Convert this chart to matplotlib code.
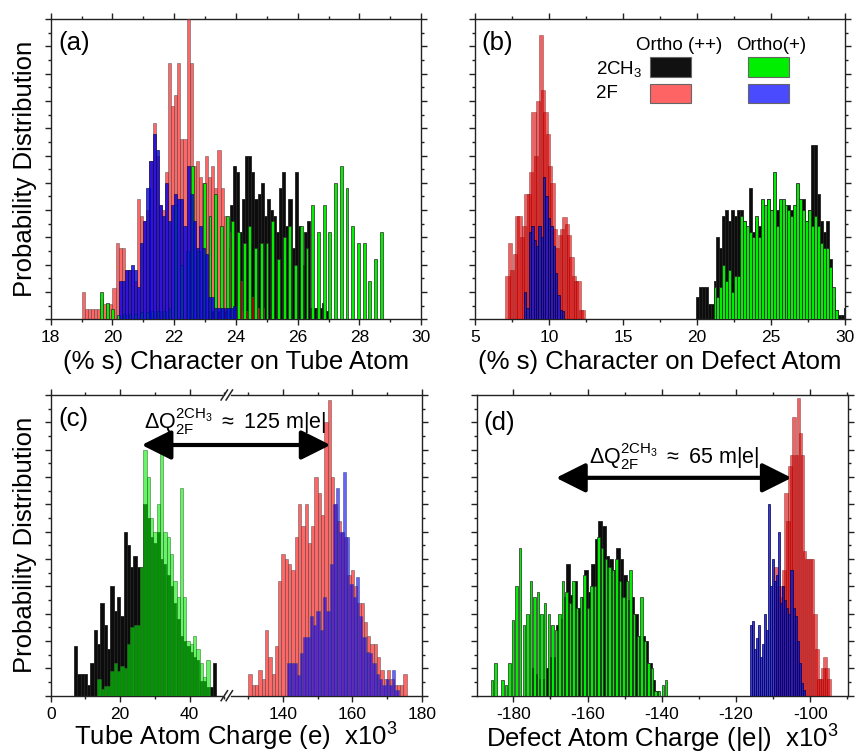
import numpy as np
import matplotlib
matplotlib.use('Agg')
import matplotlib.pyplot as plt
from matplotlib.patches import Rectangle, FancyArrowPatch
from matplotlib.lines import Line2D
from matplotlib.ticker import MultipleLocator, FixedLocator, NullFormatter

plt.rcParams['font.family'] = ['Liberation Sans', 'DejaVu Sans']
plt.rcParams['mathtext.fontset'] = 'custom'
plt.rcParams['mathtext.rm'] = 'Liberation Sans'
plt.rcParams['mathtext.it'] = 'Liberation Sans:italic'
plt.rcParams['mathtext.bf'] = 'Liberation Sans:bold'
plt.rcParams['axes.unicode_minus'] = False

# ---------------- data ----------------
# panel (a): % s character on tube atom
red_a_start, red_a_step = 19.0, 0.1
red_a = [1.0, 0.37, 0.37, 0.37, 0.37, 0.37, 0.75, 0.55, 0.55, 0.55,
         1.15, 2.8, 2.6, 2.6, 1.8, 1.8, 1.8, 1.4, 4.4, 3.8,
         3.6, 4.0, 5.8, 7.2, 6.0, 4.2, 4.0, 5.4, 9.4, 7.8,
         8.2, 9.4, 6.6, 6.6, 11.0, 9.4, 5.6, 5.8, 5.2, 5.0,
         6.0, 5.2, 5.6, 4.8, 6.2, 4.8, 3.8, 2.6, 3.2, 0.3,
         0.5, 1.4, 0.3, 0.3, 0.3, 0.8, 0.4, 0.4, 0.4]
blue_a_start, blue_a_step = 20.2, 0.1
blue_a = [1.4, 1.4, 1.8, 1.8, 2.0, 1.8, 1.2, 2.8, 3.6, 4.8,
          5.8, 6.8, 6.2, 4.2, 3.8, 5.0, 3.6, 4.2, 4.6, 4.4,
          4.4, 3.4, 5.6, 4.6, 3.6, 2.6, 3.4, 2.6, 2.4, 0.8,
          0.8, 0.4, 0.4, 0.4, 0.4, 0.4, 0.4, 0.5]
black_a_start, black_a_step = 23.1, 0.1
black_a = [0.3, 0.3, 1.2, 0.3, 0.3, 0.3, 0.3, 4.2, 5.6, 5.4,
           3.2, 4.4, 6.0, 6.0, 5.4, 4.4, 4.6, 5.0, 3.8, 4.4,
           4.0, 3.8, 3.2, 4.8, 5.4, 3.4, 4.4, 2.6, 5.4, 3.4,
           2.0, 3.2, 3.6, 0.4, 0.4, 0.4, 0.4, 0.6, 0.3]
green_a_start, green_a_step = 19.55, 0.185
green_a = [1.0, 0.6, 0.37, 0.17, 0.2, 0.2, 0.2, 0.25, 0.25, 0.3,
           0.3, 0.3, 0.4, 4.2, 2.0, 2.5, 5.6, 2.5, 5.0, 3.8,
           4.6, 3.4, 3.8, 3.6, 3.2, 2.8, 3.4, 2.6, 2.8, 2.8,
           3.6, 2.2, 3.0, 3.4, 2.0, 3.4, 2.6, 4.2, 3.2, 4.2,
           3.2, 5.0, 5.6, 4.8, 3.4, 2.8, 2.8, 1.4, 2.2, 3.2]

# panel (b): % s character on defect atom
red_b_start, red_b_step = 7.1, 0.16
red_b = [1.6, 2.8, 1.8, 2.4, 3.8, 3.8, 3.0, 3.4, 4.6, 4.6,
         5.4, 7.6, 6.0, 8.0, 10.4, 8.4, 7.6, 6.8, 5.6, 5.0,
         3.3, 2.6, 3.1, 3.3, 3.75, 3.5, 3.1, 2.3, 1.6, 1.4,
         1.4, 0.33, 0.33]
blue_b_start, blue_b_step = 8.3, 0.16
blue_b = [1.0, 0.4, 3.2, 3.4, 2.9, 2.7, 3.4, 3.0, 5.2, 4.5,
          3.7, 3.4, 2.7, 1.7, 0.9, 0.33, 0.3]
black_b_start, black_b_step = 19.9, 0.2
black_b = [0.8, 1.2, 1.2, 1.2, 0.55, 0.55, 1.4, 3.0, 2.6, 3.8,
           4.0, 3.6, 4.0, 3.8, 4.0, 4.0, 3.6, 3.2, 4.8, 3.2,
           3.6, 3.4, 3.4, 3.8, 4.4, 4.0, 3.8, 4.0, 4.2, 4.0,
           4.0, 4.2, 4.0, 4.0, 4.2, 3.6, 4.4, 3.6, 4.0, 6.4,
           6.4, 4.6, 3.6, 3.2, 3.6, 2.2, 0.76, 0.33, 0.15, 0.15,
           0.4]
green_b_start, green_b_step = 21.1, 0.2
green_b = [1.2, 0.8, 1.2, 2.0, 1.4, 1.8, 1.0, 1.6, 1.6, 3.8,
           3.6, 3.4, 3.2, 3.0, 3.8, 3.0, 4.4, 4.2, 4.4, 4.0,
           5.4, 3.4, 4.4, 4.4, 4.2, 4.0, 3.8, 4.2, 5.0, 4.4,
           4.0, 3.6, 4.0, 3.4, 3.8, 3.4, 2.8, 2.6, 2.6, 1.9,
           1.2, 0.33]

# panel (c): tube atom charge (x10^3 e)
black_c_start, black_c_step = 6.7, 0.95
black_c = [1.8, 0.8, 0.8, 0.8, 0.4, 1.2, 2.4, 1.9, 3.4, 2.6,
           1.7, 4.0, 3.1, 3.6, 2.9, 6.0, 5.5, 4.7, 5.1, 4.7,
           4.7, 7.0, 6.5, 5.8, 5.6, 6.0, 5.0, 4.8, 4.4, 4.0,
           3.4, 2.8, 2.2, 2.0, 1.8, 1.6, 1.4, 1.3, 0.55, 0.55,
           0.3, 0.3, 1.2]
green_c_start, green_c_step = 13.4, 0.95
green_c = [0.6, 0.25, 0.35, 0.35, 0.9, 1.2, 0.9, 1.1, 1.0, 1.9,
           2.5, 2.6, 2.6, 4.7, 9.0, 8.0, 6.5, 6.0, 7.0, 9.1,
           6.0, 5.8, 5.2, 4.2, 3.6, 7.6, 3.6, 2.0, 1.9, 2.2,
           1.7, 1.2, 0.7, 1.3]
red_c_start, red_c_step = 130.1, 0.95
red_c = [0.8, 0.4, 0.4, 0.95, 0.6, 2.4, 1.4, 0.8, 1.8, 4.2,
         5.2, 5.0, 4.8, 4.6, 5.8, 7.0, 6.2, 7.0, 5.6, 6.2,
         8.0, 7.4, 6.6, 10.0, 10.8, 8.0, 7.0, 6.4, 6.0, 5.8,
         4.4, 4.6, 4.0, 3.4, 3.4, 2.7, 2.2, 1.9, 1.9, 1.4,
         0.95, 0.6, 0.95, 0.6, 0.4, 0.4, 0.4, 0.8]
blue_c_start, blue_c_step = 141.1, 0.95
blue_c = [1.2, 1.2, 1.2, 0.75, 1.55, 2.15, 2.15, 2.9, 2.6, 3.1,
          2.4, 3.6, 3.1, 4.8, 7.0, 7.6, 6.0, 8.2, 5.8, 4.1,
          3.6, 4.35, 2.9, 2.15, 1.6, 1.55, 1.2, 0.8, 0.6, 0.4,
          0.6, 0.4, 0.95, 0.2]

# panel (d): defect atom charge (x10^3 |e|)
green_d_start, green_d_step = -186.3, 0.96
green_d = [0.57, 1.18, 0.0, 0.57, 0.39, 1.18, 2.77, 4.0, 5.4, 2.6,
           3.0, 4.2, 3.6, 3.8, 3.0, 3.4, 3.0, 2.6, 2.4, 3.0,
           4.2, 3.8, 3.4, 4.2, 3.2, 3.6, 4.4, 3.2, 4.0, 4.0,
           5.8, 5.4, 5.0, 4.7, 4.6, 5.0, 4.2, 3.6, 4.2, 4.6,
           3.0, 2.2, 3.6, 2.0, 1.2, 1.0, 0.18, 0.18, 0.39, 0.57]
black_d_start, black_d_step = -175.3, 0.96
black_d = [1.0, 0.8, 0.6, 0.6, 1.0, 1.4, 1.4, 2.6, 2.8, 3.6,
           4.8, 3.7, 4.2, 3.2, 3.6, 4.6, 3.8, 4.8, 5.75, 6.4,
           6.2, 5.1, 5.0, 4.6, 5.4, 5.0, 4.4, 3.5, 3.6, 3.0,
           2.2, 2.2, 2.0, 1.2, 0.57, 0.18]
blue_d_start, blue_d_step = -116.3, 0.55
blue_d = [2.6, 2.75, 1.7, 2.1, 2.6, 1.4, 1.9, 3.0, 2.4, 7.0,
          4.0, 5.0, 4.2, 4.4, 6.0, 3.4, 4.0, 3.5, 3.2, 3.0,
          4.6, 3.2, 2.9, 2.0, 1.2, 0.45, 0.2]
red_d_start, red_d_step = -109.5, 0.55
red_d = [4.7, 4.0, 3.6, 4.0, 4.6, 7.4, 6.4, 8.4, 8.8, 10.2,
         8.8, 10.9, 9.6, 8.8, 5.3, 5.0, 5.0, 5.0, 5.0, 3.0,
         1.7, 0.6, 0.6, 1.0, 1.4, 1.0, 0.6]

legend_cols = ['Ortho (++)', 'Ortho(+)']
legend_rows = ['2CH$_3$', '2F']

# ---------------- styles ----------------
C_BLACK = '#0c0c0c'
C_GREEN = '#00ee00'
C_RED = (1.0, 0.0, 0.0)
C_DRED = (0.86, 0.0, 0.0)
C_BLUE = (0.0, 0.0, 1.0)
EDGE = '#2a2a2a'

W, H = 856.0, 756.0


def rect(l, t, r, b):
    return [l / W, 1 - b / H, (r - l) / W, (b - t) / H]


def bars(ax, start, step, vals, wfrac=1.0, center_frac=0.5, **kw):
    vals = np.asarray(vals, dtype=float)
    edges = start + step * np.arange(len(vals))
    centers = edges + step * center_frac
    ax.bar(centers, vals, width=step * wfrac, align='center', **kw)


def style(ax, left=True, right=True):
    ax.set_ylim(0, 11)
    ax.yaxis.set_major_locator(MultipleLocator(1))
    ax.yaxis.set_minor_locator(MultipleLocator(0.5))
    ax.yaxis.set_major_formatter(NullFormatter())
    ax.tick_params(which='both', direction='out', top=True, bottom=True,
                   left=left, right=right, labelsize=12.5, width=1,
                   color='#222222', pad=3.5)
    ax.tick_params(which='major', length=4.5)
    ax.tick_params(which='minor', length=2.5)
    for s in ax.spines.values():
        s.set_linewidth(1)
        s.set_color('#222222')


fig = plt.figure(figsize=(8.56, 7.56), dpi=100)

ax_a = fig.add_axes(rect(50.7, 19, 421.2, 319.3))
ax_b = fig.add_axes(rect(475.3, 19, 845.2, 319.3))
ax_c1 = fig.add_axes(rect(50.7, 395, 226.2, 695.7))
ax_c2 = fig.add_axes(rect(226.2, 395, 421.7, 695.7))
ax_d = fig.add_axes(rect(477.0, 395, 848.0, 695.7))

LW = 0.6
# ---- (a)
bars(ax_a, black_a_start, black_a_step, black_a, color=C_BLACK, edgecolor='#222222', lw=LW, zorder=2)
bars(ax_a, red_a_start, red_a_step, red_a, color=C_RED, alpha=0.6, edgecolor='#555555', lw=LW, zorder=3)
bars(ax_a, green_a_start, green_a_step, green_a, wfrac=0.5, color='#00f000', edgecolor=EDGE, lw=0.5, zorder=4)
bars(ax_a, blue_a_start, blue_a_step, blue_a, color='#0000f0', alpha=0.8, edgecolor='#101050', lw=LW, zorder=5)
ax_a.set_xlim(18, 30)
ax_a.xaxis.set_major_locator(MultipleLocator(2))
ax_a.xaxis.set_minor_locator(MultipleLocator(1))
style(ax_a)
ax_a.set_xlabel('(% s) Character on Tube Atom', fontsize=18.5, labelpad=3)
ax_a.set_ylabel('Probability Distribution', fontsize=18.5)
ax_a.yaxis.set_label_coords(-0.036, 0.5)
ax_a.text(0.02, 0.92, '(a)', transform=ax_a.transAxes, fontsize=18.5, va='center', ha='left')

# ---- (b)
bars(ax_b, black_b_start, black_b_step, black_b, color=C_BLACK, edgecolor='#222222', lw=LW, zorder=2)
bars(ax_b, green_b_start, green_b_step, green_b, color=C_GREEN, edgecolor=EDGE, lw=LW, zorder=3)
bars(ax_b, red_b_start, red_b_step, red_b, wfrac=1.8, color=C_DRED, alpha=0.6, edgecolor='#6a0808', lw=0.4, zorder=4)
bars(ax_b, blue_b_start, blue_b_step, blue_b, wfrac=1.0, color='#1818c8', alpha=0.85, edgecolor='#000050', lw=0.6, zorder=5)
ax_b.set_xlim(5, 30)
ax_b.xaxis.set_major_locator(MultipleLocator(5))
ax_b.xaxis.set_minor_locator(MultipleLocator(2.5))
style(ax_b)
ax_b.set_xlabel('(% s) Character on Defect Atom', fontsize=18.5, labelpad=3)
ax_b.text(0.016, 0.92, '(b)', transform=ax_b.transAxes, fontsize=18.5, va='center', ha='left')

# legend in (b)
ax_b.text(0.55, 0.913, legend_cols[0], transform=ax_b.transAxes, fontsize=13.5, ha='center', va='center')
ax_b.text(0.80, 0.913, legend_cols[1], transform=ax_b.transAxes, fontsize=13.5, ha='center', va='center')
ax_b.text(0.327, 0.835, legend_rows[0], transform=ax_b.transAxes, fontsize=13.5, ha='left', va='center')
ax_b.text(0.327, 0.752, legend_rows[1], transform=ax_b.transAxes, fontsize=13.5, ha='left', va='center')
sw = [((0.473, 0.807), '#111111'), ((0.738, 0.807), '#00ee00'),
      ((0.473, 0.720), '#ff6464'), ((0.738, 0.720), '#4a4aff')]
for (x0, y0), col in sw:
    ax_b.add_patch(Rectangle((x0, y0), 0.11, 0.065, transform=ax_b.transAxes,
                             facecolor=col, edgecolor='#666666', lw=0.8, zorder=6))

# ---- (c) broken axis
bars(ax_c1, black_c_start, black_c_step, black_c, color=C_BLACK, edgecolor='#222222', lw=LW, zorder=2)
bars(ax_c1, green_c_start, green_c_step, green_c, color=C_GREEN, alpha=0.6, edgecolor='#2a6a2a', lw=LW, zorder=3)
bars(ax_c2, red_c_start, red_c_step, red_c, color=C_RED, alpha=0.6, edgecolor='#555555', lw=LW, zorder=3)
bars(ax_c2, blue_c_start, blue_c_step, blue_c, color=C_BLUE, alpha=0.6, edgecolor='#404080', lw=LW, zorder=4)
ax_c1.set_xlim(0, 50.5)
ax_c2.set_xlim(123.7, 180)
ax_c1.xaxis.set_major_locator(FixedLocator([0, 20, 40]))
ax_c1.xaxis.set_minor_locator(FixedLocator([10, 30, 50]))
ax_c2.xaxis.set_major_locator(FixedLocator([140, 160, 180]))
ax_c2.xaxis.set_minor_locator(FixedLocator([130, 150, 170]))
style(ax_c1, left=True, right=False)
style(ax_c2, left=False, right=True)
ax_c1.spines['right'].set_visible(False)
ax_c2.spines['left'].set_visible(False)
ax_c1.spines['bottom'].set_bounds(0, 49.4)
ax_c1.spines['top'].set_bounds(0, 49.4)
ax_c2.spines['bottom'].set_bounds(125.0, 180)
ax_c2.spines['top'].set_bounds(125.0, 180)
ax_c1.set_ylabel('Probability Distribution', fontsize=18.5)
ax_c1.yaxis.set_label_coords(-0.0765, 0.5)
ax_c1.text(0.042, 0.92, '(c)', transform=ax_c1.transAxes, fontsize=18.5, va='center', ha='left')
fig.text(236.2 / W, 1 - 737 / H, 'Tube Atom Charge (e)  x10$^3$', fontsize=18.5, ha='center', va='center')

# break marks
for yb in (395.0, 695.7):
    for xc in (224.3, 229.3):
        fig.add_artist(Line2D([(xc - 3.2) / W, (xc + 3.2) / W],
                              [1 - (yb + 5) / H, 1 - (yb - 5) / H],
                              color='#222222', lw=1.1))

# arrow + text (c)
arr_c = FancyArrowPatch((141.7 / W, 1 - 445 / H), (330.5 / W, 1 - 445 / H),
                        transform=fig.transFigure, arrowstyle='<|-|>,head_length=0.9,head_width=0.45',
                        mutation_scale=20, lw=3, color='black', shrinkA=0, shrinkB=0, zorder=10)
fig.add_artist(arr_c)
fig.text(235.5 / W, 1 - 421.5 / H,
         r'$\Delta\mathrm{Q}_{\mathrm{2F}}^{\mathrm{2CH_3}}$ $\approx$ 125 m|e|',
         fontsize=15.5, ha='center', va='center')

# ---- (d)
bars(ax_d, black_d_start, black_d_step, black_d, color=C_BLACK, edgecolor='#222222', lw=LW, zorder=2)
bars(ax_d, green_d_start, green_d_step, green_d, wfrac=0.68, color=C_GREEN, edgecolor=EDGE, lw=0.5, zorder=3)
bars(ax_d, red_d_start, red_d_step, red_d, wfrac=1.8, color=C_DRED, alpha=0.6, edgecolor='#6a0808', lw=0.4, zorder=4)
bars(ax_d, blue_d_start, blue_d_step, blue_d, wfrac=1.0, color='#1818c8', alpha=0.85, edgecolor='#000050', lw=0.6, zorder=5)
ax_d.set_xlim(-189.8, -89.8)
ax_d.xaxis.set_major_locator(MultipleLocator(20))
ax_d.xaxis.set_minor_locator(MultipleLocator(10))
style(ax_d)
ax_d.set_xlabel('Defect Atom Charge (|e|)  x10$^3$', fontsize=18.5, labelpad=1)
ax_d.text(0.016, 0.908, '(d)', transform=ax_d.transAxes, fontsize=18.5, va='center', ha='left')
ax_d.annotate('', xy=(-105.0, 7.97), xytext=(-168.5, 7.97),
              arrowprops=dict(arrowstyle='<|-|>,head_length=0.9,head_width=0.45',
                              mutation_scale=20, lw=3, color='black', shrinkA=0, shrinkB=0),
              zorder=10)
ax_d.text(-136.7, 8.73, r'$\Delta\mathrm{Q}_{\mathrm{2F}}^{\mathrm{2CH_3}}$ $\approx$ 65 m|e|',
          fontsize=15.5, ha='center', va='center', zorder=10)

fig.savefig('out.png', dpi=100)
